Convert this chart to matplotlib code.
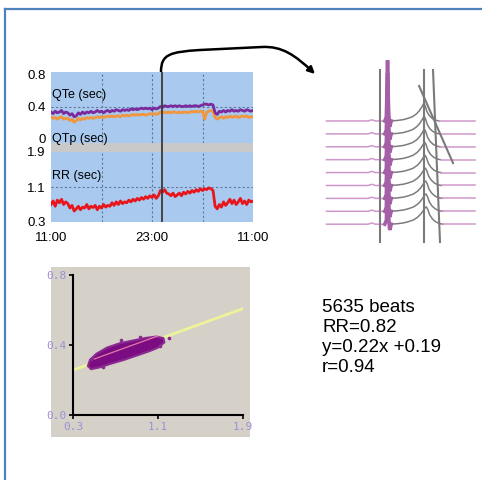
import matplotlib
matplotlib.use("Agg")
import matplotlib.pyplot as plt
import numpy as np
from matplotlib.patches import FancyArrowPatch
from matplotlib.path import Path
from matplotlib.lines import Line2D

W, H = 482, 480

# 24 h recording, 11:00 -> 11:00, one value every 15 min
hours = np.linspace(0, 24, 97)
qte = [0.33, 0.31, 0.34, 0.32, 0.33, 0.35, 0.31, 0.33, 0.32, 0.29, 0.31, 0.27,
       0.28, 0.32, 0.30, 0.33, 0.31, 0.33, 0.32, 0.34, 0.32, 0.33, 0.35, 0.33,
       0.34, 0.32, 0.34, 0.35, 0.33, 0.35, 0.34, 0.36, 0.35, 0.34, 0.36, 0.35,
       0.36, 0.35, 0.37, 0.36, 0.37, 0.36, 0.37, 0.38, 0.37, 0.38, 0.37, 0.38,
       0.36, 0.38, 0.37, 0.38, 0.40, 0.39, 0.41, 0.40, 0.40, 0.41, 0.40, 0.41,
       0.40, 0.41, 0.40, 0.40, 0.41, 0.40, 0.41, 0.40, 0.41, 0.41, 0.40, 0.41,
       0.42, 0.43, 0.43, 0.42, 0.43, 0.42, 0.32, 0.30, 0.34, 0.33, 0.35, 0.33,
       0.35, 0.34, 0.36, 0.34, 0.35, 0.34, 0.36, 0.35, 0.34, 0.36, 0.35, 0.34,
       0.35]
qtp = [0.27, 0.25, 0.26, 0.24, 0.26, 0.27, 0.24, 0.25, 0.25, 0.22, 0.24, 0.20,
       0.22, 0.25, 0.23, 0.25, 0.24, 0.26, 0.25, 0.26, 0.25, 0.26, 0.27, 0.26,
       0.27, 0.26, 0.27, 0.28, 0.27, 0.28, 0.27, 0.28, 0.28, 0.27, 0.29, 0.28,
       0.29, 0.28, 0.29, 0.30, 0.29, 0.30, 0.29, 0.30, 0.30, 0.29, 0.30, 0.31,
       0.30, 0.31, 0.30, 0.31, 0.33, 0.32, 0.33, 0.32, 0.33, 0.32, 0.33, 0.33,
       0.32, 0.33, 0.32, 0.33, 0.33, 0.32, 0.33, 0.34, 0.33, 0.34, 0.33, 0.34,
       0.34, 0.24, 0.33, 0.34, 0.35, 0.34, 0.26, 0.24, 0.26, 0.27, 0.25, 0.27,
       0.26, 0.28, 0.26, 0.27, 0.28, 0.26, 0.27, 0.28, 0.27, 0.28, 0.26, 0.27,
       0.27]
rr = [0.70, 0.78, 0.66, 0.80, 0.74, 0.82, 0.70, 0.76, 0.72, 0.62, 0.68, 0.55,
      0.60, 0.66, 0.58, 0.64, 0.62, 0.70, 0.60, 0.66, 0.63, 0.68, 0.58, 0.66,
      0.62, 0.70, 0.64, 0.68, 0.66, 0.74, 0.68, 0.76, 0.70, 0.78, 0.72, 0.76,
      0.74, 0.80, 0.76, 0.82, 0.78, 0.84, 0.80, 0.86, 0.82, 0.88, 0.84, 0.90,
      0.86, 0.92, 0.84, 0.90, 1.02, 0.98, 1.04, 0.96, 0.94, 0.90, 0.96, 0.88,
      0.92, 0.96, 0.90, 0.98, 0.94, 1.00, 0.96, 1.02, 0.98, 1.04, 1.00, 1.06,
      1.02, 1.06, 1.04, 1.08, 1.06, 1.02, 0.66, 0.60, 0.70, 0.64, 0.76, 0.68,
      0.74, 0.82, 0.72, 0.80, 0.70, 0.76, 0.84, 0.72, 0.78, 0.70, 0.80, 0.76,
      0.78]
cursor_hour = 13.2
grid_hours = [6, 12, 18]
time_labels = ["11:00", "23:00", "11:00"]

# averaged beats, one per trace (ms relative to QRS, amplitude in trace units)
pre_ms = [-530, -170, -155, -140, -125, -110, -28]
pre_amp = [0, 0, 0.05, 0.09, 0.05, 0, 0]
qrs_ms = [-28, -14, -4, 5, 14, 28]
qrs_amp = [0, 0.3, 4.7, 0.6, -0.45, 0]
t_ms = [28, 80, 130, 170, 210, 245, 270, 290, 302, 310, 320, 335, 355, 380, 410, 440]
t_amp = [0, 0.04, 0.1, 0.2, 0.33, 0.55, 0.8, 1.08, 1.28, 1.34, 1.15, 0.72, 0.42,
         0.2, 0.05, 0]
post_ms = [440, 750]
post_amp = [0, 0]
trace_base = [0, -1, -2, -3, -4, -5, -6, -7, -8]
trace_shift = [0, 4, 8, 12, 16, 20, 24, 28, 32]
marker_ms = [-69, 310]
marker_slant = ([387, 447], [3.95, -9.38])
tend_line = ([267, 559], [2.71, -3.26])

# QT vs RR scatter
cloud_rr = [0.44, 0.47, 0.55, 0.65, 0.78, 0.90, 1.02, 1.10, 1.16, 1.15, 1.08,
            0.98, 0.86, 0.74, 0.62, 0.52, 0.46]
cloud_qt = [0.28, 0.262, 0.272, 0.292, 0.315, 0.34, 0.365, 0.385, 0.415, 0.44,
            0.448, 0.44, 0.425, 0.41, 0.385, 0.35, 0.315]
outlier_rr = [0.75, 1.20, 0.47, 0.93, 1.12, 0.58]
outlier_qt = [0.43, 0.44, 0.32, 0.448, 0.395, 0.272]
slope, intercept = 0.22, 0.19
stats = ["5635 beats", "RR=0.82", "y=0.22x +0.19", "r=0.94"]


def box(x0, y0, x1, y1):
    return [x0 / W, 1 - y1 / H, (x1 - x0) / W, (y1 - y0) / H]


def fpt(x, y):
    return (x / W, 1 - y / H)


plt.rcParams["font.family"] = ["Liberation Sans", "DejaVu Sans"]
fig = plt.figure(figsize=(W / 100, H / 100), dpi=100)

blue_bg = "#a9c9ee"
grid_kw = dict(color="#60789a", lw=0.8, ls=(0, (2, 2)))

ax_band = fig.add_axes(box(51, 143, 253, 152))
ax_rr = fig.add_axes(box(51, 152, 253, 222))
ax_qt = fig.add_axes(box(51, 72, 253, 143))
ax_qt.set_zorder(3)

for ax in (ax_qt, ax_band, ax_rr):
    ax.set_xlim(0, 24)
    for s in ax.spines.values():
        s.set_visible(False)
    ax.tick_params(length=0, labelsize=9.5, pad=4)
    ax.set_xticks([])
    ax.axvline(cursor_hour, color="#3a3a3a", lw=1.3, zorder=5)

ax_band.set_facecolor("#c9c9c9")
ax_band.set_yticks([])

ax_qt.set_facecolor(blue_bg)
ax_qt.set_ylim(-0.063, 0.838)
ax_qt.set_yticks([0, 0.4, 0.8], ["0", "0.4", "0.8"])
for h in grid_hours:
    ax_qt.axvline(h, **grid_kw)
ax_qt.axhline(0.4, **grid_kw)
ax_qt.plot(hours, qtp, color="#f0963c", lw=2.0)
ax_qt.plot(hours, qte, color="#7a2a9c", lw=2.0)
ax_qt.text(0.1, 0.55, "QTe (sec)", fontsize=9, va="center")
ax_qt.text(0.1, -0.01, "QTp (sec)", fontsize=9, va="center", clip_on=False)

ax_rr.set_facecolor(blue_bg)
ax_rr.set_ylim(0.3, 1.9)
ax_rr.set_yticks([0.3, 1.1, 1.9], ["0.3", "1.1", "1.9"])
for h in grid_hours:
    ax_rr.axvline(h, **grid_kw)
ax_rr.axhline(1.1, **grid_kw)
ax_rr.plot(hours, rr, color="#e8161c", lw=2.0)
ax_rr.text(0.1, 1.36, "RR (sec)", fontsize=9, va="center")
ax_rr.set_xticks([0, 12, 24], time_labels)
ax_rr.tick_params(axis="x", pad=7)

# ECG beats
ax_ecg = fig.add_axes(box(320, 50, 480, 250))
ax_ecg.set_xlim(-585, 791)
ax_ecg.set_ylim(-10.0, 5.5)
ax_ecg.axis("off")
pink, grey, purple = "#cf98cb", "#7c7c7c", "#a45fa6"
for base, sh in zip(trace_base, trace_shift):
    ax_ecg.plot(pre_ms, np.array(pre_amp) + base, color=pink, lw=1.1)
    ax_ecg.plot(np.array(t_ms) + sh * np.linspace(0, 1, len(t_ms)),
                np.array(t_amp) + base, color=grey, lw=1.1)
    ax_ecg.plot(np.array(post_ms) + np.array([sh, 0]), np.array(post_amp) + base,
                color=pink, lw=1.1)
for base in trace_base:
    ax_ecg.plot(qrs_ms, np.array(qrs_amp) + base, color=purple, lw=2.6,
                solid_joinstyle="miter")
for m in marker_ms:
    ax_ecg.plot([m, m], [3.95, -9.38], color="#7a7a7a", lw=1.5)
ax_ecg.plot(*marker_slant, color="#7a7a7a", lw=1.5)
ax_ecg.plot(*tend_line, color="#7a7a7a", lw=1.5)

# scatter panel
ax_bg = fig.add_axes(box(51, 267, 250, 437))
ax_bg.set_facecolor("#d5d1c9")
ax_bg.set_xticks([])
ax_bg.set_yticks([])
for s in ax_bg.spines.values():
    s.set_visible(False)

ax_sc = fig.add_axes(box(73, 275, 243, 415))
ax_sc.set_facecolor("none")
ax_sc.set_xlim(0.3, 1.9)
ax_sc.set_ylim(0, 0.8)
ax_sc.spines[["top", "right"]].set_visible(False)
ax_sc.spines[["left", "bottom"]].set_linewidth(1.5)
ax_sc.set_xticks([0.3, 1.1, 1.9], ["0.3", "1.1", "1.9"])
ax_sc.set_yticks([0, 0.4, 0.8], ["0.0", "0.4", "0.8"])
ax_sc.tick_params(direction="out", length=3, width=1.2, pad=2,
                  labelsize=8, labelcolor="#9d8fd6")
for lab in ax_sc.get_xticklabels() + ax_sc.get_yticklabels():
    lab.set_family("DejaVu Sans Mono")
fit_x = np.array([0.3, 1.9])
ax_sc.plot(fit_x, slope * fit_x + intercept, color="#f0f29a", lw=2.0, zorder=2)
ax_sc.fill(cloud_rr, cloud_qt, color="#7c0c82", ec="#8a2a90", lw=1.5, zorder=3)
ax_sc.scatter(outlier_rr, outlier_qt, s=2.5, color="#8a2a90", zorder=3)
mean_x = np.array([0.5, 1.1])
ax_sc.plot(mean_x, slope * mean_x + intercept + 0.02, color="#e27aa8", lw=0.9,
           zorder=4)

# summary text
for i, line in enumerate(stats):
    fig.text(322 / W, 1 - (307 + 20.3 * i) / H, line, fontsize=13.5,
             va="center", ha="left")

# arrow from cursor to beats
verts = [fpt(161, 72), fpt(161, 54), fpt(170, 52), fpt(200, 50), fpt(262, 47),
         fpt(282, 46), fpt(295, 55), fpt(315, 74)]
codes = [Path.MOVETO, Path.CURVE4, Path.CURVE4, Path.CURVE4, Path.LINETO,
         Path.CURVE4, Path.CURVE4, Path.CURVE4]
arrow = FancyArrowPatch(path=Path(verts, codes), arrowstyle="-|>",
                        mutation_scale=10, lw=1.8, color="black",
                        transform=fig.transFigure)
fig.patches.append(arrow)

# slide frame
fig.lines.append(Line2D([5 / W, 1], [1 - 9 / H, 1 - 9 / H], color="#4f81bd",
                        lw=1.6, transform=fig.transFigure))
fig.lines.append(Line2D([5 / W, 5 / W], [1 - 9 / H, 0], color="#4f81bd",
                        lw=1.6, transform=fig.transFigure))

fig.savefig("out.png", dpi=100)
